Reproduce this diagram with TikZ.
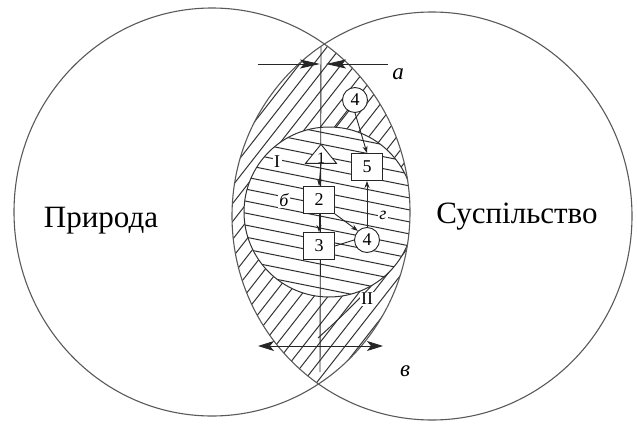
\documentclass[tikz,border=0pt]{standalone}
\usepackage{fontspec}
\setmainfont{Liberation Serif}
\usetikzlibrary{arrows.meta,shapes.geometric}
\begin{document}
\begin{tikzpicture}[x=1pt,y=-1pt,
  circ/.style={draw=black!65, line width=1.1pt},
  hatch/.style={draw=black!80, line width=1pt},
  ln/.style={draw=black!85, line width=0.9pt},
  arr/.style={ln, -{Stealth[length=7pt,width=5pt]}},
  box/.style={draw=black!85, fill=white, line width=0.9pt, minimum width=31pt, minimum height=27pt, inner sep=0pt, font=\fontsize{18}{18}\selectfont},
  numc/.style={draw=black!85, fill=white, circle, line width=0.9pt, minimum size=25pt, inner sep=0pt, font=\fontsize{18}{18}\selectfont},
  lab/.style={fill=white, inner sep=1.5pt, font=\fontsize{18}{18}\selectfont},
  ital/.style={inner sep=0pt, font=\fontsize{23}{23}\selectfont\itshape},
  big/.style={inner sep=0pt, font=\fontsize{31}{31}\selectfont}]
\useasboundingbox (0,0) rectangle (637,423);
% lens hatching
\begin{scope}
  \clip (212,212) ellipse [x radius=198pt, y radius=204pt];
  \clip (432,216) ellipse [x radius=200pt, y radius=204pt];
  \foreach \x in {100,114,...,580} \draw[hatch] (\x-154,409) -- (\x+154,15);
  \draw[hatch] (268,214) -- (355,103);
  \draw[hatch] (318,338) .. controls (360,300) and (390,268) .. (413,234);
  % inner circle
  \fill[white] (329,212) circle (85pt);
  \begin{scope}
    \clip (329,212) circle (85pt);
    \foreach \y in {90,102,...,330} \draw[hatch] (230,\y) -- (430,\y+40);
  \end{scope}
  \draw[hatch] (329,212) circle (85pt);
\end{scope}
% big circles
\draw[circ] (212,212) ellipse [x radius=198pt, y radius=204pt];
\draw[circ] (432,216) ellipse [x radius=200pt, y radius=204pt];
\node[big, anchor=base] (nat) at (101,227) {Природа};
\node[big, anchor=base] (soc) at (517,223) {Суспільство};
% axis
\coordinate (axT) at (321,47);
\coordinate (axB) at (320,372);
\draw[ln] (axT) -- (axB);
% arrows a
\coordinate (aL) at (258,64);
\coordinate (aLt) at (320,64);
\coordinate (aR) at (388,64);
\coordinate (aRt) at (326,64);
\draw[ln, -{Stealth[length=20pt,width=9pt,inset=4pt]}] (aL) -- (aLt);
\draw[ln, -{Stealth[length=20pt,width=9pt,inset=4pt]}] (aR) -- (aRt);
\node[ital] (la) at (398,74) {а};
% arrow v
\coordinate (vL) at (258,346);
\coordinate (vR) at (383,346);
\draw[ln, {Stealth[length=16pt,width=10pt,inset=4pt]}-{Stealth[length=16pt,width=10pt,inset=4pt]}] (vL) -- (vR);
\node[ital] (lv) at (405,371) {в};
% elements
\node[draw=black!85, fill=white, line width=0.9pt, isosceles triangle, isosceles triangle stretches, shape border rotate=90, minimum width=31pt, minimum height=19pt, inner sep=0pt] (tri) at (321,156) {};
\node[inner sep=0pt, font=\fontsize{16}{16}\selectfont] (t1) at (321,158) {1};
\node[box] (b5) at (367,167) {5};
\node[box] (b2) at (319,200) {2};
\node[box] (b3) at (319,246) {3};
\node[numc] (c4a) at (355,100) {4};
\node[numc] (c4b) at (367,240) {4};
% connectors
\draw[arr] (tri.south) -- (b2.north);
\draw[arr] (b2.south) -- (b3.north);
\draw[arr] (c4a.south) -- (b5.north);
\draw[arr] (b2.south east) -- (c4b.north west);
\draw[arr] (c4b.north) -- (b5.south);
\draw[ln] (b3.east) -- (c4b.west);
% labels
\node[lab] (lI) at (277,162) {I};
\node[lab, font=\fontsize{18}{18}\selectfont\itshape] (lb) at (284,200) {б};
\node[lab, font=\fontsize{18}{18}\selectfont\itshape] (lg) at (383,215) {г};
\node[lab] (lII) at (367,299) {II};
\end{tikzpicture}
\end{document}
